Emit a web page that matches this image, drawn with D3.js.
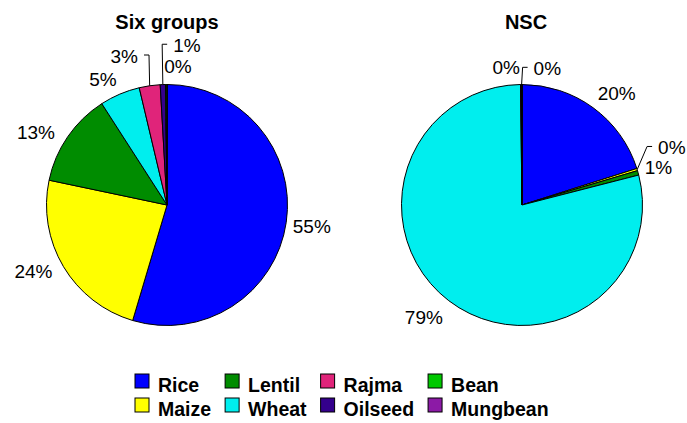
<!DOCTYPE html>
<html>
<head>
<meta charset="utf-8">
<script src="https://cdn.jsdelivr.net/npm/d3@7"></script>
<style>
  body { margin: 0; background: #fff; }
  text { font-family: Arial, "Liberation Sans", sans-serif; }
</style>
</head>
<body>
<script>
// crops, in the order the slices go round (clockwise from 12 o'clock)
const crops = ["Rice", "Maize", "Lentil", "Wheat", "Rajma", "Oilseed", "Bean", "Mungbean"];
const cropColors = ["#0000ff", "#ffff00", "#008c00", "#00eeee", "#e0247a", "#34008c", "#00c800", "#8c1aa6"];

// percent shares
const sixGroups = [54.6, 23.7, 12.6, 5.4, 2.8, 0.7, 0.2, 0];
const nsc = [20.1, 0.3, 0.6, 78.8, 0.1, 0.1, 0, 0];

const titles = ["Six groups", "NSC"];

// legend is laid out column by column, two rows
const legendRows = 2;

const W = 687, H = 423;
const R = 120.5;

const svg = d3.select("body").append("svg")
  .attr("width", W)
  .attr("height", H);

// labels that Excel pulled away from their slice (with a leader line)
// angle in degrees clockwise from top, distance from the pie centre
const leaderLabels = [
  { "Rajma": [344, 155], "Oilseed": [7.1, 161] },
  { "Maize": [69, 160.5], "Oilseed": [10.5, 139] }
];
// labels Excel placed off the plain radial spot, no leader
const labelSpots = [
  { "Maize": [243.7, 149], "Lentil": [299.1, 150], "Wheat": [333, 141], "Bean": [4.5, 139] },
  { "Rice": [40.1, 147], "Wheat": [221.2, 149], "Rajma": [353.5, 139] }
];

const pieCenters = [[167, 205], [522, 205]];

const pie = d3.pie().sort(null).value(d => d.v);
const arc = d3.arc().innerRadius(0).outerRadius(R);

function drawPie(values, idx) {
  const [cx, cy] = pieCenters[idx];
  const g = svg.append("g").attr("transform", `translate(${cx},${cy})`);
  const rows = crops.map((c, i) => ({ name: c, v: values[i], color: cropColors[i] }));
  const arcs = pie(rows);

  g.selectAll("path.slice")
    .data(arcs)
    .join("path")
    .attr("class", "slice")
    .attr("d", arc)
    .attr("fill", d => d.data.color)
    .attr("stroke", "#000")
    .attr("stroke-width", 1)
    .attr("stroke-linejoin", "round");

  svg.append("text")
    .attr("x", cx + (idx ? 4 : 0))
    .attr("y", 29)
    .attr("text-anchor", "middle")
    .attr("font-size", "20px")
    .attr("font-weight", "bold")
    .text(titles[idx]);

  arcs.forEach(d => {
    if (d.data.v <= 0) return;
    const label = Math.round(d.data.v) + "%";
    const mid = (d.startAngle + d.endAngle) / 2;
    const t = g.append("text")
      .attr("font-size", "19px")
      .attr("fill", "#000")
      .attr("text-anchor", "middle")
      .text(label);
    const hw = t.node().getComputedTextLength() / 2, hh = 7;
    const lead = leaderLabels[idx][d.data.name];
    const fixed = labelSpots[idx][d.data.name];
    let lx, ly;
    if (lead || fixed) {
      const p = lead || fixed;
      const a = p[0] * Math.PI / 180;
      lx = p[1] * Math.sin(a);
      ly = -p[1] * Math.cos(a);
    } else {
      const dd = R + 6 + hw * Math.abs(Math.sin(mid)) + hh * Math.abs(Math.cos(mid));
      lx = dd * Math.sin(mid);
      ly = -dd * Math.cos(mid);
    }
    t.attr("x", lx).attr("y", ly + 7);

    if (lead) {
      // leader: from slice edge out to a knee, then a short tick toward the label
      const ex = R * Math.sin(mid), ey = -R * Math.cos(mid);
      const side = lx < ex ? -1 : 1;
      const tipX = lx - side * (hw + 6);
      const kneeX = tipX - side * 5;
      const kneeY = ly - 1;
      g.append("path")
        .attr("d", `M${ex},${ey}L${kneeX},${kneeY}L${tipX},${kneeY}`)
        .attr("fill", "none")
        .attr("stroke", "#000")
        .attr("stroke-width", 1);
    }
  });
}

drawPie(sixGroups, 0);
drawPie(nsc, 1);

// legend
const legend = svg.append("g");
let colX = 135;
for (let c = 0; c < Math.ceil(crops.length / legendRows); c++) {
  let maxW = 0;
  for (let r = 0; r < legendRows; r++) {
    const i = c * legendRows + r;
    if (i >= crops.length) break;
    const base = 392 + r * 24;
    legend.append("rect")
      .attr("x", colX)
      .attr("y", base - 18)
      .attr("width", 14)
      .attr("height", 14)
      .attr("fill", cropColors[i])
      .attr("stroke", "#000")
      .attr("stroke-width", 1);
    const t = legend.append("text")
      .attr("x", colX + 23)
      .attr("y", base)
      .attr("font-size", "19.5px")
      .attr("font-weight", "bold")
      .text(crops[i]);
    maxW = Math.max(maxW, t.node().getComputedTextLength());
  }
  colX += 23 + maxW + 14;
}
</script>
</body>
</html>
